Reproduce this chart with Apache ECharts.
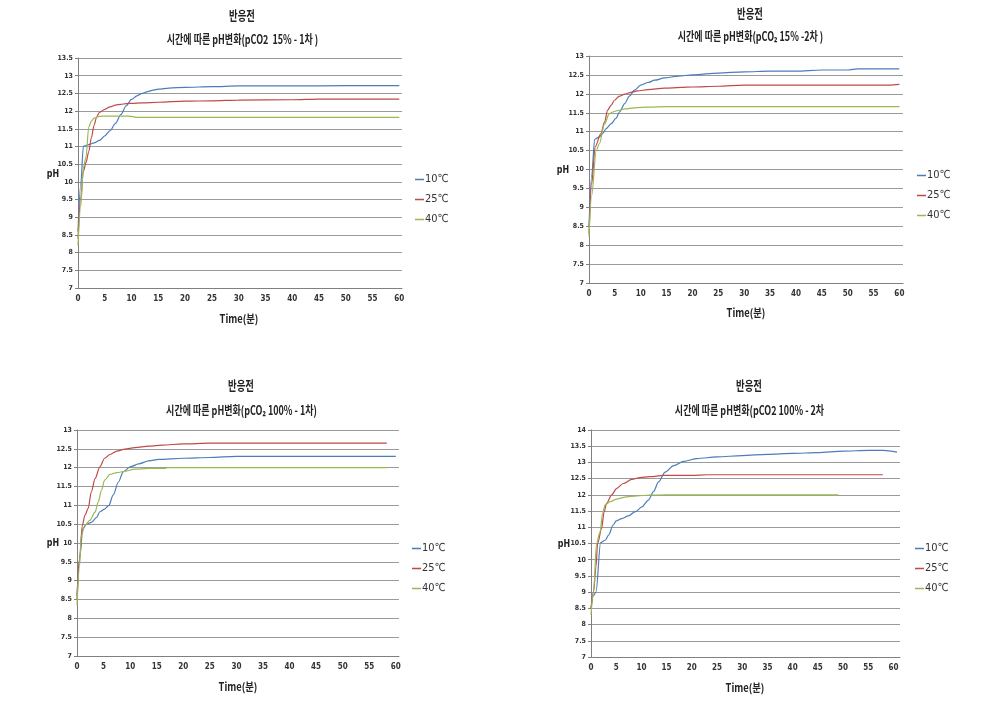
<!DOCTYPE html>
<html>
<head>
<meta charset="utf-8">
<script src="https://cdn.jsdelivr.net/npm/echarts@6/dist/echarts.min.js"></script>
<style>
html,body{margin:0;padding:0;background:#fff;}
#main{width:1004px;height:728px;}
</style>
</head>
<body>
<div id="main"></div>
<script>
// ---------- data ----------
var seriesNames = ['10℃', '25℃', '40℃'];
var mainTitle = '반응전';
var subTitles = [
  '시간에 따른 pH변화(pCO2  15% - 1차 )',
  '시간에 따른 pH변화(pCO₂ 15% -2차 )',
  '시간에 따른 pH변화(pCO₂ 100% - 1차)',
  '시간에 따른 pH변화(pCO2 100% - 2차'
];
var xName = 'Time(분)';
var yName = 'pH';

// Chart 1 : pCO2 15% - 1차
var c1_t10 = [0,0.5,1,2,3,4,5,6,7,8,9,10,11,12,13,14,15,17,20,25,30,40,50,60];
var c1_p10 = [8.6,9.9,11.0,11.05,11.1,11.17,11.3,11.45,11.65,11.9,12.15,12.33,12.43,12.5,12.55,12.59,12.62,12.65,12.67,12.69,12.71,12.71,12.72,12.72];
var c1_t25 = [0,0.5,1,1.5,2,2.5,3,3.5,4,5,6,7,8,9,10,12,15,20,25,30,40,45,50,60];
var c1_p25 = [8.4,9.5,10.3,10.55,10.85,11.25,11.6,11.84,11.96,12.05,12.12,12.17,12.19,12.21,12.22,12.23,12.25,12.28,12.29,12.31,12.32,12.34,12.34,12.34];
var c1_t40 = [0,0.5,1,1.5,2,2.5,3,4,5,6,7,8,9,10,11,12,15,20,30,40,50,60];
var c1_p40 = [8.2,9.3,10.4,10.7,11.55,11.72,11.8,11.85,11.86,11.86,11.86,11.86,11.86,11.85,11.82,11.82,11.82,11.82,11.82,11.82,11.82,11.82];

// Chart 2 : pCO2 15% - 2차
var c2_t10 = [0,0.5,1.1,2,2.7,3.3,4.3,5.2,5.9,6.9,7.8,8.8,10,11.4,12.7,14.6,17.2,20,25,30,35,40,45,50,52,60];
var c2_p10 = [8.5,9.8,10.8,10.86,10.96,11.08,11.21,11.35,11.52,11.74,11.94,12.1,12.23,12.3,12.36,12.42,12.47,12.5,12.55,12.58,12.6,12.6,12.63,12.63,12.66,12.66];
var c2_t25 = [0,0.5,1.2,2.3,3,3.6,4.3,4.9,5.9,6.9,8.1,9.4,11.4,14.6,17.8,20,25,30,40,50,58,60];
var c2_p25 = [8.3,9.6,10.6,10.95,11.25,11.57,11.7,11.83,11.94,11.99,12.04,12.08,12.11,12.15,12.17,12.18,12.2,12.23,12.23,12.23,12.23,12.25];
var c2_t40 = [0,0.5,1.4,2,3,3.9,4.6,5.6,6.9,8.8,11.4,15,20,30,40,50,60];
var c2_p40 = [8.22,9.3,10.5,10.68,11.2,11.47,11.52,11.56,11.6,11.63,11.65,11.66,11.66,11.66,11.66,11.66,11.66];

// Chart 3 : pCO2 100% - 1차
var c3_t10 = [0,0.5,1.1,1.8,2.7,3.7,4.3,5.2,6,6.8,7.8,8.7,10,11.6,13.5,15.4,20,25,30,40,50,60];
var c3_p10 = [8.6,9.6,10.38,10.5,10.55,10.68,10.83,10.9,11.0,11.27,11.62,11.89,12.02,12.1,12.18,12.22,12.25,12.27,12.3,12.3,12.3,12.3];
var c3_t25 = [0,0.5,1,1.5,2.1,2.7,3.4,4.3,5.2,6.2,7.5,9,10.9,13.5,16,20,25,30,40,50,58.3];
var c3_p25 = [8.5,9.6,10.47,10.74,10.92,11.36,11.71,12.02,12.25,12.35,12.44,12.49,12.53,12.57,12.6,12.63,12.65,12.65,12.65,12.65,12.65];
var c3_t40 = [0,0.5,0.8,1.5,2.4,3.4,4,4.6,5.2,6.2,7.5,9,10.9,13.5,16.6,17,30,40,50,58.3];
var c3_p40 = [8.35,9.4,10.2,10.47,10.6,10.82,11.09,11.4,11.67,11.82,11.87,11.9,11.96,11.98,11.98,12.0,12.0,12.0,12.0,12.0];

// Chart 4 : pCO2 100% - 2차
var c4_t10 = [0,0.5,1,1.9,2.8,3.5,4.4,5,6.1,7.4,8.8,10.1,11.4,12.4,13.4,14.7,16.4,18.4,21,25,30,35,40,45,50,55,58,60.7];
var c4_p10 = [8.5,8.9,9.0,10.53,10.6,10.76,11.07,11.2,11.27,11.35,11.48,11.63,11.84,12.1,12.4,12.7,12.9,13.03,13.12,13.17,13.21,13.25,13.28,13.3,13.35,13.37,13.37,13.32];
var c4_t25 = [0,0.5,1,1.3,2.1,2.6,3.1,4.1,5.1,6.4,8.1,9.7,11.7,14.4,20,23,30,40,50,57.9];
var c4_p25 = [8.5,9.0,9.8,10.5,10.96,11.48,11.74,12.0,12.2,12.35,12.48,12.53,12.56,12.6,12.6,12.62,12.62,12.62,12.62,12.62];
var c4_t40 = [0,0.5,1.1,1.8,2.3,2.8,3.8,5.1,7.1,9.1,11.7,15,20,30,40,49.1];
var c4_p40 = [8.3,9.0,10.5,10.86,11.43,11.69,11.79,11.87,11.94,11.97,11.99,12.0,12.0,12.0,12.0,12.0];

var yMins = [7, 7, 7, 7];
var yMaxs = [13.5, 13, 13, 14];
var yStep = 0.5;
var xMin = 0;
var xStep = 5;

// ---------- layout ----------
var colors = ['#4A7EBB', '#BE4B48', '#98B954'];
var grids = [
  {left: 78, top: 58, width: 324, height: 230, xMax: 60.5},
  {left: 589, top: 56, width: 314, height: 227, xMax: 60.7},
  {left: 77, top: 430, width: 322, height: 226, xMax: 60.6},
  {left: 591, top: 430, width: 309, height: 227, xMax: 61.3}
];
var titlePos = [
  {tx: 242, ty: 15, sx: 242.5, sy: 39, px: 53, py: 174, nx: 239, ny: 319},
  {tx: 750, ty: 13, sx: 750.5, sy: 36, px: 563, py: 170, nx: 746, ny: 313},
  {tx: 241, ty: 385, sx: 241.5, sy: 410, px: 53, py: 543, nx: 238, ny: 687},
  {tx: 749, ty: 385, sx: 749.5, sy: 410, px: 564, py: 544, nx: 745, ny: 688}
];
var legendPos = [
  {left: 410, top: 169},
  {left: 912, top: 165},
  {left: 407, top: 538},
  {left: 910, top: 538}
];

var allT = [[c1_t10, c1_t25, c1_t40], [c2_t10, c2_t25, c2_t40], [c3_t10, c3_t25, c3_t40], [c4_t10, c4_t25, c4_t40]];
var allP = [[c1_p10, c1_p25, c1_p40], [c2_p10, c2_p25, c2_p40], [c3_p10, c3_p25, c3_p40], [c4_p10, c4_p25, c4_p40]];

var narrow = "'Liberation Sans Narrow','DejaVu Sans Condensed','Liberation Sans',sans-serif";
var kr = "'Noto Sans CJK KR','Noto Sans',sans-serif";

function pairs(t, p) {
  var out = [];
  for (var i = 0; i < t.length; i++) out.push([t[i], p[i]]);
  return out;
}

var option = {
  animation: false,
  backgroundColor: '#ffffff',
  color: colors,
  grid: [], xAxis: [], yAxis: [], series: [], legend: [], graphic: []
};

for (var k = 0; k < 4; k++) {
  var g = grids[k];
  option.grid.push({left: g.left, top: g.top, width: g.width, height: g.height, containLabel: false});
  option.xAxis.push({
    type: 'value', gridIndex: k, min: xMin, max: g.xMax, interval: xStep,
    axisLine: {show: true, lineStyle: {color: '#808080', width: 1}},
    axisTick: {show: false},
    splitLine: {show: false},
    axisLabel: {
      showMaxLabel: false, margin: 7, fontSize: 8, fontWeight: 'bold', color: '#333',
      fontFamily: narrow,
      formatter: function (v) { return (v % 5 === 0) ? String(v) : ''; }
    }
  });
  option.yAxis.push({
    type: 'value', gridIndex: k, min: yMins[k], max: yMaxs[k], interval: yStep,
    axisLine: {show: true, lineStyle: {color: '#808080', width: 1}},
    axisTick: {show: true, length: 3, lineStyle: {color: '#808080'}},
    splitLine: {show: true, lineStyle: {color: '#9a9a9a', width: 1}},
    axisLabel: {margin: 5, fontSize: 7, fontWeight: 'bold', color: '#333', fontFamily: narrow}
  });
  for (var s = 0; s < 3; s++) {
    option.series.push({
      type: 'line', name: seriesNames[s], xAxisIndex: k, yAxisIndex: k,
      data: pairs(allT[k][s], allP[k][s]),
      symbol: 'none', smooth: 0.3, smoothMonotone: 'x',
      lineStyle: {width: 1.2, color: colors[s]},
      itemStyle: {color: colors[s]}
    });
  }
  option.legend.push({
    orient: 'vertical', left: legendPos[k].left, top: legendPos[k].top,
    data: seriesNames, itemWidth: 9, itemHeight: 10, itemGap: 9,
    icon: 'path://M0,0 L10,0 L10,1.7 L0,1.7 Z',
    selectedMode: false,
    textStyle: {fontSize: 11, color: '#333', fontFamily: narrow, padding: [0, 0, 0, -4]}
  });
  var tp = titlePos[k];
  option.graphic.push(
    {type: 'text', x: tp.tx, y: tp.ty, scaleX: 0.72,
     style: {text: mainTitle, textAlign: 'center', textVerticalAlign: 'middle', font: 'bold 13px ' + kr, fill: '#222'}},
    {type: 'text', x: tp.sx, y: tp.sy, scaleX: 0.72,
     style: {text: subTitles[k], textAlign: 'center', textVerticalAlign: 'middle', font: 'bold 12.5px ' + kr, fill: '#222'}},
    {type: 'text', x: tp.px, y: tp.py, scaleX: 0.8,
     style: {text: yName, textAlign: 'center', textVerticalAlign: 'middle', font: 'bold 11px ' + narrow, fill: '#222'}},
    {type: 'text', x: tp.nx, y: tp.ny, scaleX: 0.85,
     style: {text: xName, textAlign: 'center', textVerticalAlign: 'middle', font: 'bold 11px ' + kr, fill: '#222'}}
  );
}

var chart = echarts.init(document.getElementById('main'), null, {renderer: 'canvas'});
chart.setOption(option);
</script>
</body>
</html>
